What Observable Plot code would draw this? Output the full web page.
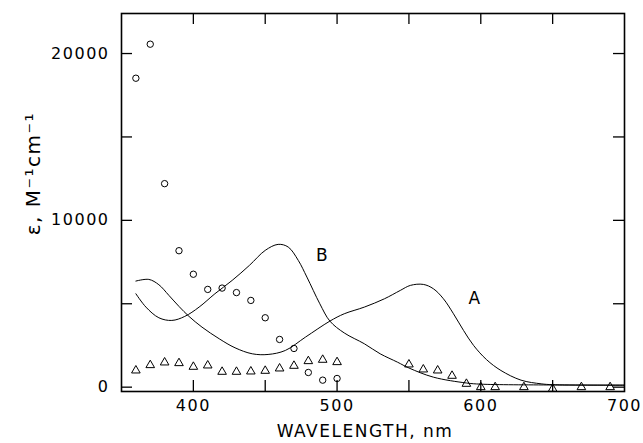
<!DOCTYPE html>
<html><head><meta charset="utf-8">
<script src="https://cdn.jsdelivr.net/npm/d3@7"></script>
<script src="https://cdn.jsdelivr.net/npm/@observablehq/plot@0.6"></script>
<style>body{margin:0;background:#fff}</style>
</head><body><div id="chart"></div>
<script>
// open circles
const circleX = [360,370,380,390,400,410,420,430,440,450,460,470,480,490,500];
const circleY = [18520,20560,12200,8180,6770,5860,5940,5670,5200,4160,2860,2320,880,420,520];
// open triangles
const triX = [360,370,380,390,400,410,420,430,440,450,460,470,480,490,500,550,560,570,580,590,600,610,630,650,670,690];
const triY = [1000,1320,1480,1440,1220,1300,920,920,940,980,1120,1280,1560,1640,1500,1360,1060,1000,680,200,0,0,0,-100,0,0];
// curve A
const aX = [360,369,376,383,390,397,406,418,429,441,452,464,478,495,505,519,533,544,551,560,567,574,581,588,595,604,614,628,642,650,700];
const aY = [6360,6460,6140,5500,4840,4240,3600,2900,2360,2000,1960,2200,3000,3960,4400,4800,5300,5800,6100,6160,5900,5300,4400,3400,2500,1650,1000,420,200,150,120];
// curve B
const bX = [360,367,376,385,394,404,415,427,439,450,459,466,473,479,488,495,505,519,530,542,550,567,590,600,650,700];
const bY = [5600,4800,4160,4000,4240,4800,5600,6400,7300,8200,8560,8400,7600,6600,5000,3960,3250,2600,2000,1500,1150,600,250,180,130,120];
// text labels
const curveNames = ["A","B"];
const curveLabelX = [596,490];
const curveLabelY = [5300,7900];
const xTickLabels = [400,500,600,700];
const xTicks = [400,450,500,550,600,650];
const yTickLabels = [0,10000,20000];
const yTicks = [0,5000,10000,15000,20000];
const xTitle = "WAVELENGTH, nm";
const yTitle = "ε, M⁻¹cm⁻¹";

const circles = circleX.map((x,i)=>({x, y: circleY[i]}));
const tris = triX.map((x,i)=>({x, y: triY[i]}));
const A = aX.map((x,i)=>({x, y: aY[i]}));
const B = bX.map((x,i)=>({x, y: bY[i]}));
const labels = curveNames.map((t,i)=>({t, x: curveLabelX[i], y: curveLabelY[i]}));

const W = 643, H = 443, mL = 121, mR = 19, mT = 13, mB = 52;
const innerW = W - mL - mR, innerH = H - mT - mB, tk = 11;

const chart = Plot.plot({
  width: W, height: H, marginLeft: mL, marginRight: mR, marginTop: mT, marginBottom: mB,
  style: {fontFamily: "DejaVu Sans", fontSize: "16px", letterSpacing: "1.5px", color: "black", background: "white"},
  x: {domain: [350, 700]},
  y: {domain: [-260, 22400]},
  marks: [
    Plot.axisX(xTickLabels, {tickSize: 0, tickPadding: 8, fontSize: 16, tickFormat: d3.format("d"), label: null}),
    Plot.axisY(yTickLabels, {tickSize: 0, tickPadding: 12, fontSize: 16, tickFormat: d3.format("d"), label: null}),
    Plot.text([xTitle], {text: d => d, frameAnchor: "bottom", lineAnchor: "middle", dx: -8, dy: 40, fontSize: 17}),
    Plot.text([yTitle], {text: d => d, y: () => 12800, frameAnchor: "left", textAnchor: "middle", dx: -88, rotate: -90, fontSize: 20, letterSpacing: 4}),
    Plot.tickX(xTicks, {x: d => d, insetTop: innerH - tk, strokeWidth: 1.3}),
    Plot.tickX(xTicks, {x: d => d, insetBottom: innerH - tk, strokeWidth: 1.3}),
    Plot.tickY(yTicks, {y: d => d, insetRight: innerW - tk, strokeWidth: 1.3}),
    Plot.tickY(yTicks, {y: d => d, insetLeft: innerW - tk, strokeWidth: 1.3}),
    Plot.line(A, {x: "x", y: "y", curve: "catmull-rom", strokeWidth: 1}),
    Plot.line(B, {x: "x", y: "y", curve: "catmull-rom", strokeWidth: 1}),
    Plot.dot(circles, {x: "x", y: "y", r: 3.2, stroke: "black", strokeWidth: 1}),
    Plot.dot(tris, {x: "x", y: "y", r: 3.2, symbol: "triangle", stroke: "black", strokeWidth: 1}),
    Plot.text(labels, {x: "x", y: "y", text: "t", fontSize: 17, letterSpacing: 0}),
    Plot.frame({strokeWidth: 1.6})
  ]
});
document.getElementById("chart").appendChild(chart);
</script>
</body></html>
